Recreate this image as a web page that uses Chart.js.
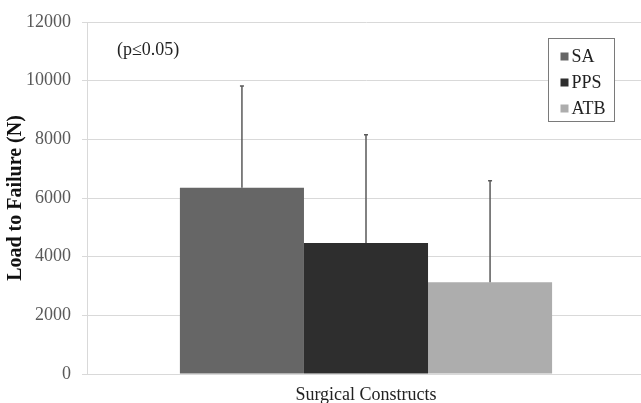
<!DOCTYPE html>
<html>
<head>
<meta charset="utf-8">
<script src="https://cdn.jsdelivr.net/npm/chart.js@4/dist/chart.umd.min.js"></script>
<style>
  html, body { margin: 0; padding: 0; background: #fff; overflow: hidden; }
  #wrap { width: 646px; height: 403px; }
</style>
</head>
<body>
<div id="wrap"><canvas id="chart"></canvas></div>
<script>
// 데이터
const categories = ['Surgical Constructs'];
const seriesNames = ['SA', 'PPS', 'ATB'];
const means = [6350, 4470, 3130];
const sds = [3470, 3690, 3460];
const colors = ['#666666', '#2e2e2e', '#adadad'];
const yTicks = [0, 2000, 4000, 6000, 8000, 10000, 12000];
const note = '(p\u22640.05)';

const SERIF = "'Liberation Serif', 'Times New Roman', serif";

// 에러바 (위쪽만)
const errorBars = {
    id: 'errorBars',
    afterDatasetsDraw(chart) {
        const ctx = chart.ctx;
        const y = chart.scales.y;
        ctx.save();
        ctx.strokeStyle = '#5a5a5a';
        ctx.lineWidth = 1.5;
        chart.data.datasets.forEach((ds, i) => {
            const bar = chart.getDatasetMeta(i).data[0];
            const top = y.getPixelForValue(ds.data[0] + sds[i]);
            ctx.beginPath();
            ctx.moveTo(bar.x, bar.y);
            ctx.lineTo(bar.x, top);
            ctx.moveTo(bar.x - 2, top);
            ctx.lineTo(bar.x + 2, top);
            ctx.stroke();
        });
        ctx.restore();
    }
};

// 범례 + 주석
const boxLegend = {
    id: 'boxLegend',
    afterDraw(chart) {
        const ctx = chart.ctx;
        const a = chart.chartArea;
        ctx.save();
        // 주석
        ctx.font = '18px ' + SERIF;
        ctx.fillStyle = '#222';
        ctx.textBaseline = 'middle';
        ctx.textAlign = 'left';
        ctx.fillText(note, a.left + 30, a.top + 28);

        // 범례 박스
        const bx = Math.round(a.right - 97) + 0.5, by = a.top + 16.5, bw = 66, bh = 83;
        ctx.fillStyle = '#fff';
        ctx.fillRect(bx, by, bw, bh);
        ctx.strokeStyle = '#7a7a7a';
        ctx.lineWidth = 1;
        ctx.strokeRect(bx, by, bw, bh);
        seriesNames.forEach((name, i) => {
            const cy = by + 18 + i * 26;
            ctx.fillStyle = colors[i];
            ctx.fillRect(bx + 12, cy - 4, 8, 8);
            ctx.fillStyle = '#222';
            ctx.fillText(name, bx + 23, cy + 1);
        });
        ctx.restore();
    }
};

new Chart(document.getElementById('chart').getContext('2d'), {
    type: 'bar',
    data: {
        labels: categories,
        datasets: seriesNames.map((name, i) => ({
            label: name,
            data: [means[i]],
            backgroundColor: colors[i],
            borderWidth: 0,
            barPercentage: 1.0,
            categoryPercentage: 0.667
        }))
    },
    options: {
        responsive: true,
        maintainAspectRatio: false,
        animation: false,
        layout: { padding: { top: 22, right: 1, left: 0, bottom: 0 } },
        plugins: {
            legend: { display: false },
            tooltip: { enabled: false }
        },
        scales: {
            x: {
                grid: { display: false, drawTicks: false },
                border: { display: true, color: '#d9d9d9', width: 1 },
                ticks: {
                    padding: 10,
                    color: '#222',
                    font: { family: SERIF, size: 18 }
                },
                afterFit(scale) { scale.height = 29; }
            },
            y: {
                min: 0,
                max: 12000,
                afterBuildTicks(scale) { scale.ticks = yTicks.map(v => ({ value: v })); },
                grid: { color: '#d9d9d9', tickColor: '#d9d9d9', tickLength: 5 },
                border: { display: true, color: '#d9d9d9' },
                ticks: {
                    padding: 11,
                    color: '#595959',
                    font: { family: SERIF, size: 18 },
                    callback: (v) => String(v)
                },
                title: {
                    display: true,
                    text: 'Load to Failure (N)',
                    color: '#111',
                    font: { family: SERIF, size: 20, weight: 'bold' },
                    padding: { top: 4, bottom: 0 }
                },
                afterFit(scale) { scale.width = 87; }
            }
        }
    },
    plugins: [errorBars, boxLegend]
});
</script>
</body>
</html>
